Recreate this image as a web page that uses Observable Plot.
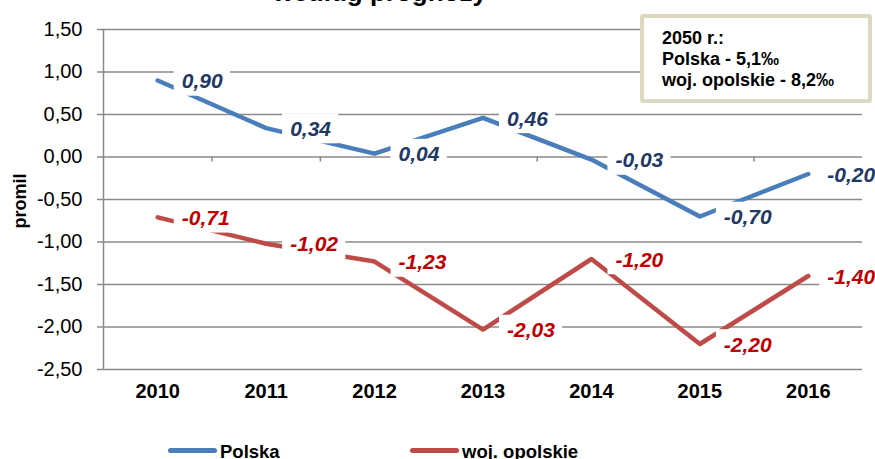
<!DOCTYPE html>
<html><head><meta charset="utf-8">
<script src="https://cdn.jsdelivr.net/npm/d3@7"></script>
<script src="https://cdn.jsdelivr.net/npm/@observablehq/plot@0.6"></script>
<style>
body{margin:0;background:#fff;font-family:"Liberation Sans",Arial,sans-serif;}
#wrap{position:relative;width:875px;height:459px;overflow:hidden;background:#fff;}
#wrap svg{position:absolute;left:0;top:0;}
.title{position:absolute;left:180px;width:400px;top:-53px;text-align:center;font-weight:bold;font-size:26px;line-height:30px;color:#000;}
.ylab{position:absolute;left:20px;top:201px;transform:translate(-50%,-50%) rotate(-90deg);font-weight:bold;font-size:18px;line-height:18px;white-space:nowrap;}
.note{position:absolute;left:640px;top:14px;width:232px;height:89px;box-sizing:border-box;border:4px solid #DCD8C2;border-radius:3px;background:#fff;padding:10px 0 0 18px;font-weight:bold;font-size:18px;line-height:21px;white-space:nowrap;}
.leg{position:absolute;white-space:nowrap;font-weight:bold;font-size:18.5px;line-height:18.5px;}
.sw{position:absolute;height:5px;width:49px;border-radius:3px;}
</style></head><body><div id="wrap"></div>
<script>
const years = [2010, 2011, 2012, 2013, 2014, 2015, 2016];
const polska = [0.90, 0.34, 0.04, 0.46, -0.03, -0.70, -0.20];
const opolskie = [-0.71, -1.02, -1.23, -2.03, -1.20, -2.20, -1.40];
const seriesNames = ["Polska", "woj. opolskie"];
const seriesColors = ["#4A7EBB", "#BE4B48"];
const labelColors = ["#1F3864", "#C00000"];
const yTicks = [1.5, 1, 0.5, 0, -0.5, -1, -1.5, -2, -2.5];
const boundaries = [2010.5, 2011.5, 2012.5, 2013.5, 2014.5, 2015.5];
const noteLines = ["2050 r.:", "Polska - 5,1‰", "woj. opolskie - 8,2‰"];
const titleLines = ["Przyrost naturalny", "według prognozy"];
const yLabel = "promil";

const seriesValues = [polska, opolskie];
const rows = [];
seriesNames.forEach((s, si) => years.forEach((y, i) => rows.push({series: s, si, year: y, value: seriesValues[si][i]})));
const fmt = v => v.toFixed(2).replace(".", ",");
const grid = "#8a8a8a";

const labelMarks = [];
seriesNames.forEach((s, si) => {
  const common = {x: "year", y: "value", text: d => fmt(d.value), fill: labelColors[si], textAnchor: "start",
    fontWeight: "bold", fontStyle: "italic", fontSize: 21, dy: 1, className: "lbl"};
  labelMarks.push(Plot.text(rows.filter(d => d.si === si && d.year < 2016), {...common, dx: 24}));
  labelMarks.push(Plot.text(rows.filter(d => d.si === si && d.year === 2016), {...common, dx: 19}));
});

const chart = Plot.plot({
  width: 875, height: 459,
  marginLeft: 103, marginRight: 13, marginTop: 29, marginBottom: 90,
  style: {fontFamily: "'Liberation Sans', Arial, sans-serif", fontSize: "20px", background: "transparent", color: "#000"},
  x: {domain: [2009.5, 2016.5]},
  y: {domain: [-2.5, 1.5]},
  color: {domain: seriesNames, range: seriesColors},
  marks: [
    Plot.ruleY(yTicks, {stroke: grid, strokeWidth: 1.5}),
    Plot.ruleX([2009.5], {stroke: grid, strokeWidth: 1.5}),
    Plot.ruleX(boundaries, {x: d => d, y1: 0, y2: 0, insetBottom: -5, stroke: grid, strokeWidth: 1.5}),
    Plot.axisY({ticks: yTicks, tickSize: 6, tickPadding: 15, tickFormat: fmt, label: null, stroke: grid, strokeWidth: 1.5, fill: "#000", fontSize: 20}),
    Plot.axisX({ticks: years, tickSize: 0, tickPadding: 14, tickFormat: d => String(d), label: null, fontWeight: "bold", fill: "#000", fontSize: 20}),
    Plot.line(rows, {x: "year", y: "value", z: "series", stroke: "series", strokeWidth: 4.5}),
    ...labelMarks
  ]
});

const wrap = document.getElementById("wrap");
wrap.appendChild(chart);

// white boxes behind data labels
chart.querySelectorAll(".lbl text").forEach(t => {
  const bb = t.getBBox();
  const r = document.createElementNS("http://www.w3.org/2000/svg", "rect");
  r.setAttribute("x", bb.x - 8);
  r.setAttribute("y", bb.y - 3.5);
  r.setAttribute("width", bb.width + 15);
  r.setAttribute("height", bb.height + 7);
  r.setAttribute("fill", "#fff");
  r.setAttribute("stroke", "none");
  const tr = t.getAttribute("transform");
  if (tr) r.setAttribute("transform", tr);
  t.parentNode.insertBefore(r, t);
});

// title (only the bottom of its second line falls inside the frame, as in the reference)
const title = document.createElement("div");
title.className = "title";
title.innerHTML = titleLines.join("<br>");
wrap.appendChild(title);

const yl = document.createElement("div");
yl.className = "ylab";
yl.textContent = yLabel;
wrap.appendChild(yl);

const note = document.createElement("div");
note.className = "note";
note.innerHTML = noteLines.join("<br>");
wrap.appendChild(note);

seriesNames.forEach((s, i) => {
  const left = 168 + i * 242;
  const sw = document.createElement("div");
  sw.className = "sw";
  sw.style.left = left + "px";
  sw.style.top = "448px";
  sw.style.background = seriesColors[i];
  wrap.appendChild(sw);
  const tx = document.createElement("div");
  tx.className = "leg";
  tx.style.left = (left + 52) + "px";
  tx.style.top = "443px";
  tx.textContent = s;
  wrap.appendChild(tx);
});
</script></body></html>
